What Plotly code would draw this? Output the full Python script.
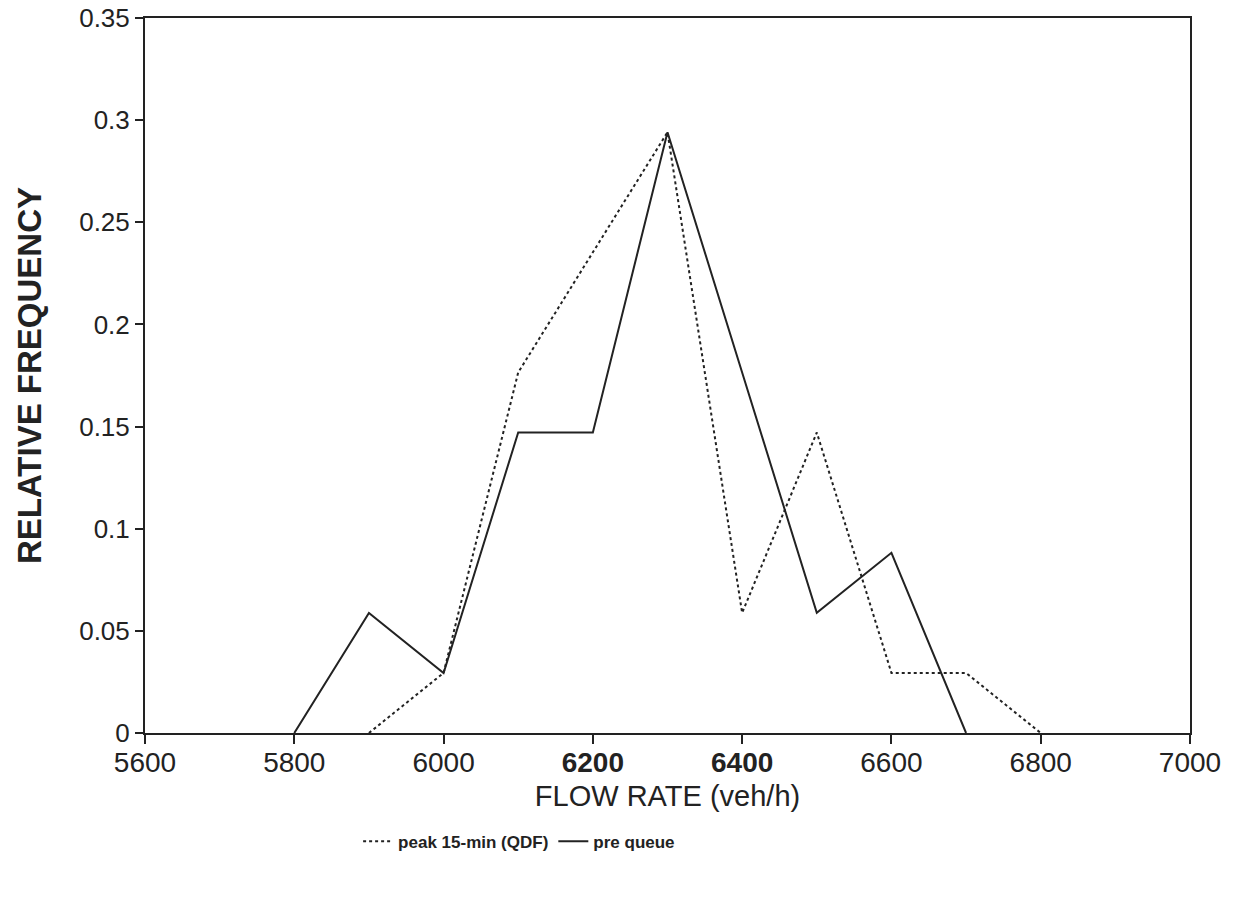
import plotly.graph_objects as go

flow_peak = [5900, 6000, 6100, 6200, 6300, 6400, 6500, 6600, 6700, 6800]
freq_peak = [0.0, 0.0294, 0.1765, 0.2353, 0.2941, 0.0588, 0.1471, 0.0294, 0.0294, 0.0]

flow_pre = [5800, 5900, 6000, 6100, 6200, 6300, 6400, 6500, 6600, 6700]
freq_pre = [0.0, 0.0588, 0.0294, 0.1471, 0.1471, 0.2941, 0.1765, 0.0588, 0.0882, 0.0]

x_ticks = [5600, 5800, 6000, 6200, 6400, 6600, 6800, 7000]
x_labels = ["5600", "5800", "6000", "<b>6200</b>", "<b>6400</b>", "6600", "6800", "7000"]
y_ticks = [0, 0.05, 0.1, 0.15, 0.2, 0.25, 0.3, 0.35]
y_labels = ["0", "0.05", "0.1", "0.15", "0.2", "0.25", "0.3", "0.35"]

fig = go.Figure()
fig.add_trace(go.Scatter(x=flow_peak, y=freq_peak, mode="lines", name="peak 15-min (QDF)",
                         line=dict(color="#222", width=2, dash="dot")))
fig.add_trace(go.Scatter(x=flow_pre, y=freq_pre, mode="lines", name="pre queue",
                         line=dict(color="#222", width=2)))

fig.update_layout(
    width=1244, height=912,
    margin=dict(l=145, r=54, t=18, b=179),
    paper_bgcolor="white", plot_bgcolor="white",
    font=dict(family="Liberation Sans, Arial", color="#222"),
    showlegend=True,
    legend=dict(orientation="h", x=0.358, y=-0.152, xanchor="center", yanchor="middle",
                font=dict(size=17, family="Liberation Sans, Arial", weight="bold"),
                itemwidth=30, bgcolor="rgba(0,0,0,0)"),
    xaxis=dict(range=[5600, 7000], tickvals=x_ticks, ticktext=x_labels, ticks="outside",
               ticklen=9, tickwidth=2, tickcolor="#222", showline=True, linecolor="#222",
               linewidth=2, mirror=True, showgrid=False, zeroline=False, automargin=False,
               ticklabelstandoff=-6, ticklabeloverflow="allow",
               tickfont=dict(size=28), title=dict(text="FLOW RATE (veh/h)",
               font=dict(size=29), standoff=9)),
    yaxis=dict(range=[0, 0.35], tickvals=y_ticks, ticktext=y_labels, ticks="outside",
               ticklen=8, tickwidth=2, tickcolor="#222", showline=True, linecolor="#222",
               linewidth=2, mirror=True, showgrid=False, zeroline=False, automargin=False,
               ticklabeloverflow="allow",
               tickfont=dict(size=26), title=dict(text="<b>RELATIVE FREQUENCY</b>",
               font=dict(size=33), standoff=28)),
)

fig.write_html("out.html")
